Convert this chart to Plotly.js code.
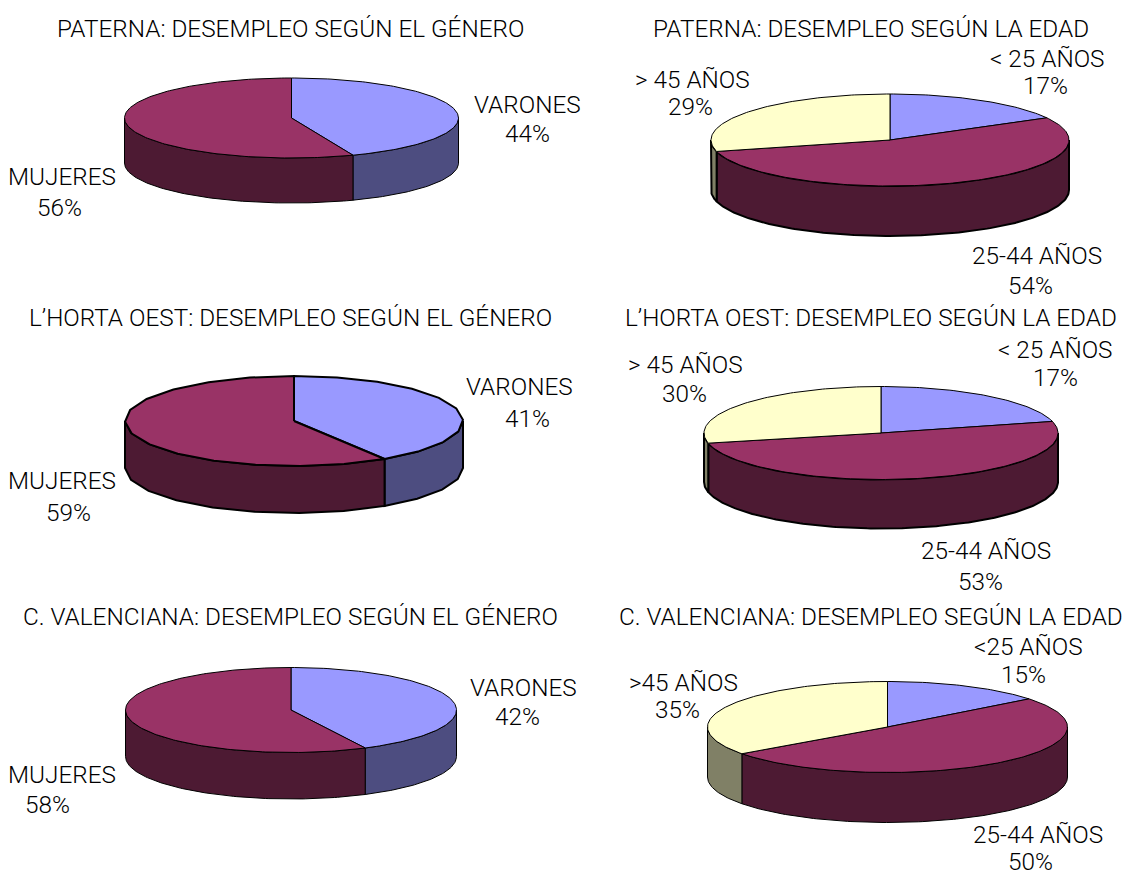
<!DOCTYPE html>
<html><head><meta charset="utf-8">
<script src="https://cdn.plot.ly/plotly-3.0.1.min.js"></script>
<style>html,body{margin:0;padding:0;background:#fff}#c{width:1126px;height:877px}</style>
</head><body><div id="c"></div>
<script>
// ---- data ----
var titles = [
 "PATERNA: DESEMPLEO SEGÚN EL GÉNERO","PATERNA: DESEMPLEO SEGÚN LA EDAD",
 "L’HORTA OEST: DESEMPLEO SEGÚN EL GÉNERO","L’HORTA OEST: DESEMPLEO SEGÚN LA EDAD",
 "C. VALENCIANA: DESEMPLEO SEGÚN EL GÉNERO","C. VALENCIANA: DESEMPLEO SEGÚN LA EDAD"];
var genderLabels = ["VARONES","MUJERES"];
var ageLabels = ["< 25 AÑOS","25-44 AÑOS","> 45 AÑOS"];
var ageLabelsCV = ["<25 AÑOS","25-44 AÑOS",">45 AÑOS"];
var paternaGender = [44,56];
var paternaAge = [17,54,29];
var hortaGender = [41,59];
var hortaAge = [17,53,30];
var hortaAgeDrawn = [21,50.5,28.5]; // slice sizes as pictured, they differ from the printed labels
var cvGender = [42,58];
var cvGenderDrawn = [42.6,57.4];
var cvAge = [15,50,35];
var cvAgeDrawn = [14.4,50.6,35];

// ---- styles and layout ----
var topColors = ["#9999ff","#993366","#ffffcc"];
var sideColors = ["#4d4d80","#4d1a33","#808066"];
var FONT = {family:"Roboto, sans-serif",size:24.3,weight:300,color:"#000"};
var titlePos = [[290,28],[871,28],[290,317],[871,317],[290,616],[871,616]];
var pies = [
 {v:paternaGender,l:genderLabels,cx:291.5,cy:118,rx:167,ry:40,d:45,top:1,side:1,step:0.02,
  lp:[[527,104,527,133],[62,176,59,207]]},
 {v:paternaAge,l:ageLabels,cx:890,cy:140,rx:179,ry:46,d:50,top:1,side:2,step:0.02,
  lp:[[1047,58,1045,85],[1037,255,1030,285],[692,79,690,106]]},
 {v:hortaGender,l:genderLabels,cx:294,cy:421,rx:169,ry:45,d:47,top:2,side:2,step:0.27,
  lp:[[519,386,527,418],[62,480,68,512]]},
 {v:hortaAge,drawn:hortaAgeDrawn,l:ageLabels,cx:881,cy:433,rx:177,ry:46.5,d:49,top:1,side:2,step:0.02,
  lp:[[1055,349,1055,377],[986,550,980,581],[685,364,684,393]]},
 {v:cvGender,drawn:cvGenderDrawn,l:genderLabels,cx:291,cy:710,rx:165.5,ry:42.5,d:46.5,top:1,side:1,step:0.02,
  lp:[[523,687,517,716],[62,774,47,804]]},
 {v:cvAge,drawn:cvAgeDrawn,l:ageLabelsCV,cx:887.5,cy:727,rx:180,ry:45.5,d:50,top:1,side:1,step:0.02,
  lp:[[1028,646,1023,674],[1038,834,1030,861],[683,682,677,709]]}
];

function pt(p,a,dy){return [p.cx+p.rx*Math.sin(a),p.cy-p.ry*Math.cos(a)+(dy||0)];}
function sweep(a0,a1,step){var n=Math.max(2,Math.ceil((a1-a0)/step)),o=[];
  for(var i=0;i<=n;i++)o.push(a0+(a1-a0)*i/n);return o;}
function poly(pts,fill,w){return {type:"scatter",mode:"lines",x:pts.map(function(q){return q[0]}),
  y:pts.map(function(q){return q[1]}),fill:"toself",fillcolor:fill,hoverinfo:"skip",showlegend:false,
  line:{color:"#000",width:w}};}

var traces=[],ann=[];
pies.forEach(function(p){
  var vals=p.drawn||p.v,total=vals.reduce(function(a,b){return a+b},0),acc=0,sl=[];
  vals.forEach(function(val,i){var a0=acc/total*2*Math.PI;acc+=val;sl.push([a0,acc/total*2*Math.PI,i]);});
  sl.forEach(function(s){
    var a0=Math.max(s[0],Math.PI/2),a1=Math.min(s[1],1.5*Math.PI);
    if(a1<=a0)return;
    var r=sweep(a0,a1,p.step),pts=[];
    r.forEach(function(a){pts.push(pt(p,a,0))});
    r.slice().reverse().forEach(function(a){pts.push(pt(p,a,p.d))});
    pts.push(pts[0]);
    traces.push(poly(pts,sideColors[s[2]],p.side));
  });
  sl.forEach(function(s){
    var pts=[[p.cx,p.cy]];
    sweep(s[0],s[1],p.step).forEach(function(a){pts.push(pt(p,a,0))});
    pts.push([p.cx,p.cy]);
    traces.push(poly(pts,topColors[s[2]],p.top));
  });
  p.l.forEach(function(t,i){
    var q=p.lp[i];
    ann.push({x:q[0],y:q[1],xref:"x",yref:"y",showarrow:false,text:t,font:FONT});
    ann.push({x:q[2],y:q[3],xref:"x",yref:"y",showarrow:false,text:p.v[i]+"%",font:FONT});
  });
});
titles.forEach(function(t,i){
  ann.push({x:titlePos[i][0],y:titlePos[i][1],xref:"x",yref:"y",showarrow:false,text:t,font:FONT});
});
Plotly.newPlot("c",traces,{
  width:1126,height:877,margin:{l:0,r:0,t:0,b:0},paper_bgcolor:"#fff",plot_bgcolor:"#fff",
  showlegend:false,annotations:ann,
  xaxis:{range:[0,1126],visible:false,fixedrange:true},
  yaxis:{range:[877,0],visible:false,fixedrange:true}
},{displayModeBar:false,staticPlot:true});
</script></body></html>
